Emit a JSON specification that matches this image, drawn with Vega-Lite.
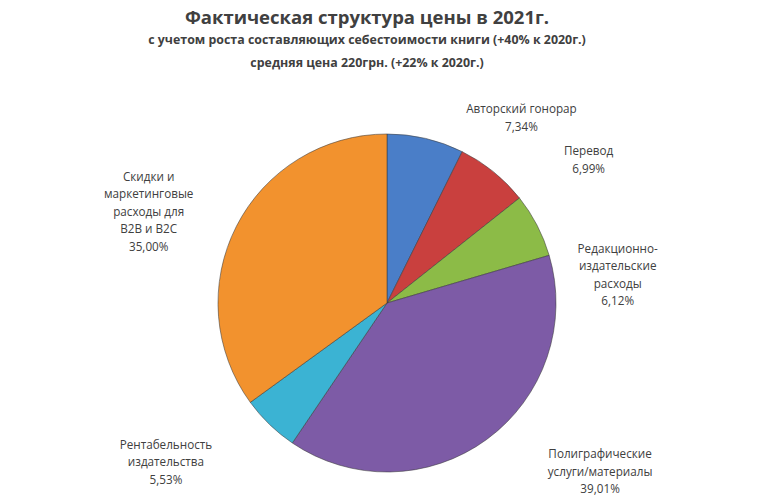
{
  "$schema": "https://vega.github.io/schema/vega-lite/v6.json",
  "autosize": {"type": "none"},
  "width": 754,
  "height": 402,
  "padding": {"left": 10, "right": 0, "top": 102, "bottom": 0},
  "background": "white",
  "title": {
    "text": "Фактическая структура цены в 2021г.",
    "subtitle": ["с учетом роста составляющих  себестоимости книги (+40% к 2020г.)", "средняя цена 220грн. (+22% к 2020г.)"],
    "anchor": "middle",
    "frame": "group",
    "dx": -20,
    "font": "Open Sans",
    "fontSize": 18.5,
    "fontWeight": "bold",
    "color": "#404040",
    "subtitleFont": "Open Sans",
    "subtitleFontSize": 12.4,
    "subtitleFontWeight": "bold",
    "subtitleColor": "#404040",
    "subtitleLineHeight": 23,
    "subtitlePadding": 6,
    "offset": 4
  },
  "data": {
    "values": [
      {"idx": 1, "category": "Авторский гонорар", "share": 7.34, "label": "Авторский гонорар\n7,34%"},
      {"idx": 2, "category": "Перевод", "share": 6.99, "label": "Перевод\n6,99%"},
      {"idx": 3, "category": "Редакционно-издательские расходы", "share": 6.12, "label": "Редакционно-\nиздательские\nрасходы\n6,12%"},
      {"idx": 4, "category": "Полиграфические услуги/материалы", "share": 39.01, "label": "Полиграфические\nуслуги/материалы\n39,01%"},
      {"idx": 5, "category": "Рентабельность издательства", "share": 5.53, "label": "Рентабельность\nиздательства\n5,53%"},
      {"idx": 6, "category": "Скидки и маркетинговые расходы для B2B и B2C", "share": 35.0, "label": "Скидки и\nмаркетинговые\nрасходы для\nB2B и B2C\n35,00%"}
    ]
  },
  "encoding": {
    "theta": {"field": "share", "type": "quantitative", "stack": true},
    "order": {"field": "idx", "type": "quantitative"}
  },
  "layer": [
    {
      "mark": {"type": "arc", "outerRadius": 169, "stroke": "#3a3a3a", "strokeOpacity": 0.55, "strokeWidth": 1},
      "encoding": {
        "color": {
          "field": "category",
          "type": "nominal",
          "scale": {
            "domain": ["Авторский гонорар", "Перевод", "Редакционно-издательские расходы", "Полиграфические услуги/материалы", "Рентабельность издательства", "Скидки и маркетинговые расходы для B2B и B2C"],
            "range": ["#4a7ec8", "#c9403e", "#8cbb47", "#7d5ba6", "#3bb3d3", "#f2922e"]
          },
          "legend": null
        }
      }
    },
    {
      "mark": {"type": "text", "radius": 190, "dx": 91, "dy": -9, "align": "center", "baseline": "middle", "lineBreak": "\n", "lineHeight": 17.5, "font": "Open Sans", "fontSize": 11.7, "color": "#404040"},
      "encoding": {"text": {"condition": {"test": "datum.idx == 1", "field": "label"}, "value": ""}}
    },
    {
      "mark": {"type": "text", "radius": 190, "dx": 82, "dy": -4, "align": "center", "baseline": "middle", "lineBreak": "\n", "lineHeight": 17.5, "font": "Open Sans", "fontSize": 11.7, "color": "#404040"},
      "encoding": {"text": {"condition": {"test": "datum.idx == 2", "field": "label"}, "value": ""}}
    },
    {
      "mark": {"type": "text", "radius": 190, "dx": 62, "dy": 33, "align": "center", "baseline": "middle", "lineBreak": "\n", "lineHeight": 17.5, "font": "Open Sans", "fontSize": 11.7, "color": "#404040"},
      "encoding": {"text": {"condition": {"test": "datum.idx == 3", "field": "label"}, "value": ""}}
    },
    {
      "mark": {"type": "text", "radius": 190, "dx": 101, "dy": -2, "align": "center", "baseline": "middle", "lineBreak": "\n", "lineHeight": 17.5, "font": "Open Sans", "fontSize": 11.7, "color": "#404040"},
      "encoding": {"text": {"condition": {"test": "datum.idx == 4", "field": "label"}, "value": ""}}
    },
    {
      "mark": {"type": "text", "radius": 190, "dx": -89, "dy": 5, "align": "center", "baseline": "middle", "lineBreak": "\n", "lineHeight": 17.5, "font": "Open Sans", "fontSize": 11.7, "color": "#404040"},
      "encoding": {"text": {"condition": {"test": "datum.idx == 5", "field": "label"}, "value": ""}}
    },
    {
      "mark": {"type": "text", "radius": 190, "dx": -69, "dy": -40, "align": "center", "baseline": "middle", "lineBreak": "\n", "lineHeight": 17.5, "font": "Open Sans", "fontSize": 11.7, "color": "#404040"},
      "encoding": {"text": {"condition": {"test": "datum.idx == 6", "field": "label"}, "value": ""}}
    }
  ]
}
